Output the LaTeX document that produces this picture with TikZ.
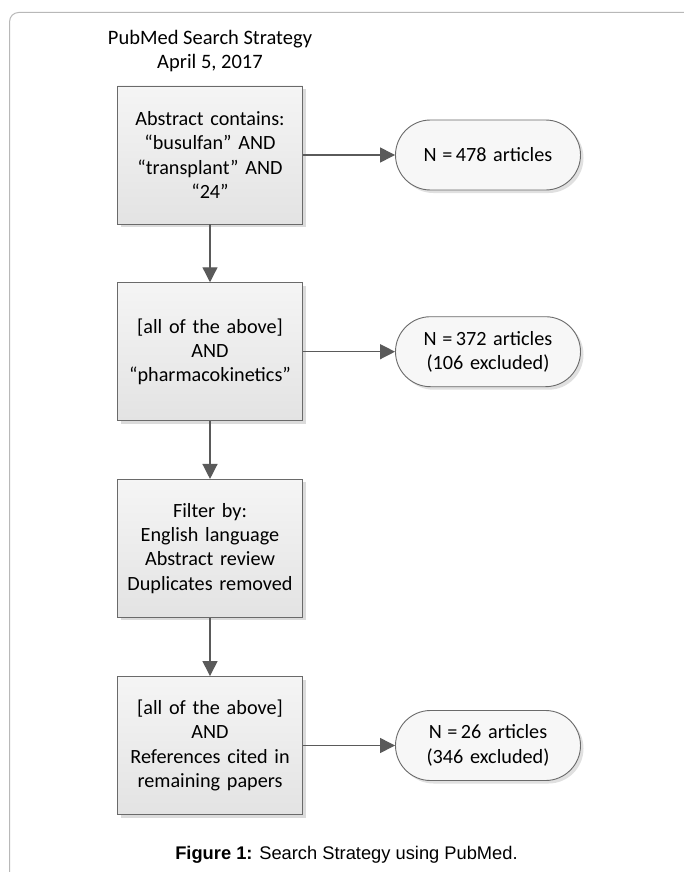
\documentclass[tikz,border=0pt]{standalone}
\usepackage{fontspec}
\setmainfont{Carlito}
\newfontfamily\capfont{Liberation Sans}
\usetikzlibrary{shadows,arrows.meta}
\definecolor{linecol}{HTML}{5A5A5A}
\definecolor{boxborder}{HTML}{6A6A6A}
\definecolor{framecol}{HTML}{B8B8B8}
\tikzset{
  boxnode/.style={draw=boxborder, line width=0.9pt, top color=black!4, bottom color=black!11,
    minimum width=185pt, minimum height=138pt, text width=182pt, align=center,
    inner sep=0pt, font=\fontsize{20.2}{24.3}\selectfont,
    drop shadow={shadow xshift=3pt, shadow yshift=-3pt, fill=black!14, opacity=1}},
  ovalnode/.style={draw=boxborder, line width=0.9pt, fill=black!3, rounded corners=35pt,
    minimum width=185pt, minimum height=70pt, text width=182pt, align=center,
    inner sep=0pt, font=\fontsize{20.2}{24.3}\selectfont,
    drop shadow={shadow xshift=3pt, shadow yshift=-3pt, fill=black!12, opacity=1}},
  arr/.style={draw=linecol, line width=1.3pt, -{Triangle[length=15pt,width=15pt]}, color=linecol},
  titlenode/.style={align=center, font=\fontsize{20.5}{24.3}\selectfont}
}
\begin{document}
\begin{tikzpicture}[x=1pt,y=-1pt]
\useasboundingbox (0,0) rectangle (683,872);
\fill[white] (0,0) rectangle (683,872);
\draw[framecol, line width=1pt, rounded corners=9pt] (9.6,900) -- (9.6,12.5) -- (720,12.5);
\node[titlenode] (title) at (210,51) {PubMed Search Strategy\\April 5, 2017};
\node[boxnode] (b1) at (210,155) {Abstract contains:\\“busulfan” AND\\“transplant” AND\\“24”};
\node[boxnode] (b2) at (210,351.7) {[all of the above]\\AND\\“pharmacokinetics”};
\node[boxnode] (b3) at (210,548.4) {Filter by:\\English language\\Abstract review\\Duplicates removed};
\node[boxnode] (b4) at (210,745.5) {[all of the above]\\AND\\References cited in\\remaining papers};
\node[ovalnode] (o1) at (488,155) {N\;=\,478 articles};
\node[ovalnode] (o2) at (488,351.7) {N\;=\,372 articles\\(106 excluded)};
\node[ovalnode] (o4) at (488,745.5) {N\;=\,26 articles\\(346 excluded)};
\draw[arr] (b1.east) -- (o1.west);
\draw[arr] (b2.east) -- (o2.west);
\draw[arr] (b4.east) -- (o4.west);
\draw[arr] (b1.south) -- (b2.north);
\draw[arr] (b2.south) -- (b3.north);
\draw[arr] (b3.south) -- (b4.north);
\node[font=\capfont\fontsize{18.3}{20}\selectfont] (cap) at (346.5,855) {\textbf{Figure 1:} Search Strategy using PubMed.};
\end{tikzpicture}
\end{document}
